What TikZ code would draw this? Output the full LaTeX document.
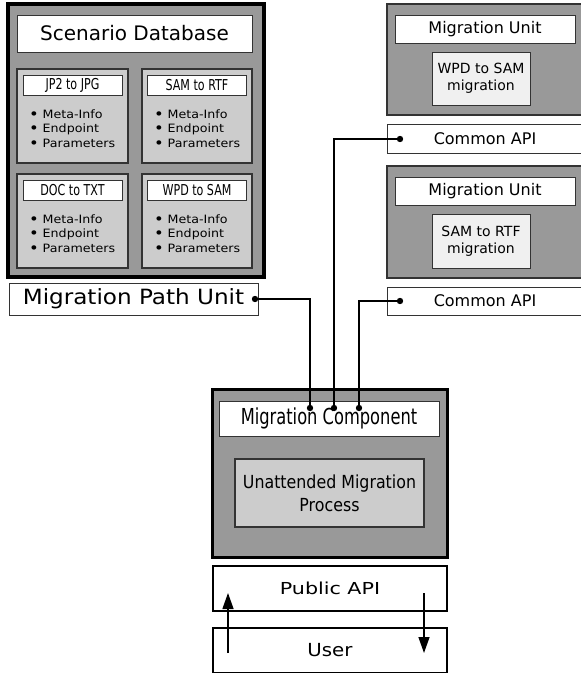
\documentclass[tikz,border=0pt]{standalone}
\usepackage{fontspec}
\setmainfont{DejaVu Sans}
\newfontfamily\narrowfont[FakeStretch=0.74]{DejaVu Sans}
\newfontfamily\slimfont[FakeStretch=0.88]{DejaVu Sans}
\newfontfamily\widefont[FakeStretch=1.1]{DejaVu Sans}
\newfontfamily\broadfont[FakeStretch=1.25]{DejaVu Sans}
\usetikzlibrary{arrows.meta,calc}
\definecolor{darkfill}{HTML}{999999}
\definecolor{midfill}{HTML}{CCCCCC}
\definecolor{lightfill}{HTML}{F0F0F0}
\definecolor{edge}{HTML}{333333}
\newcommand{\dotmark}{\raisebox{-0.8pt}{\fontsize{15}{14.5}\selectfont\textbullet}\hspace{4pt}}

\begin{document}
\begin{tikzpicture}[x=1pt,y=-1pt]
	\tikzstyle{every node}=[inner sep=0pt,outer sep=0pt]
	\tikzstyle{bigbox}=[draw=black,line width=4pt,fill=darkfill]
	\tikzstyle{compbox}=[draw=black,line width=3pt,fill=darkfill]
	\tikzstyle{unitbox}=[draw=edge,line width=1.2pt,fill=darkfill]
	\tikzstyle{pathbox}=[draw=edge,line width=1.2pt,fill=midfill]
	\tikzstyle{labelbox}=[draw=edge,line width=1pt,fill=white]
	\tikzstyle{innerbox}=[draw=edge,line width=1pt,fill=lightfill]
	\tikzstyle{apibox}=[draw=black,line width=2.5pt,fill=white]
	\tikzstyle{wire}=[line width=1.8pt]
	\tikzstyle{flow}=[line width=1.3pt,-{Triangle[width=11pt,length=16pt]}]
	\tikzstyle{infolist}=[anchor=west,align=left,font=\widefont\fontsize{11.5}{14.5}\selectfont]
	\tikzstyle{pathlabel}=[labelbox,minimum width=99,minimum height=20,font=\narrowfont\fontsize{15}{18}\selectfont]

	\useasboundingbox (0,0) rectangle (581,673);

	\node[bigbox,minimum width=256,minimum height=273] (scendb) at (136,140.5) {};
	\node[labelbox,minimum width=235,minimum height=37,font=\fontsize{20}{24}\selectfont] (scentitle) at (134.5,33.5) {Scenario Database};

	\node[pathbox,minimum width=111,minimum height=94] (jp2) at (72.5,116) {};
	\node[pathlabel] (jp2lbl) at (72.5,85) {JP2 to JPG};
	\node[infolist] (jp2info) at (29,129) {\dotmark Meta-Info\\\dotmark Endpoint\\\dotmark Parameters};
	\node[pathbox,minimum width=110,minimum height=94] (sam) at (197,116) {};
	\node[pathlabel] (samlbl) at (197,85) {SAM to RTF};
	\node[infolist] (saminfo) at (154,129) {\dotmark Meta-Info\\\dotmark Endpoint\\\dotmark Parameters};
	\node[pathbox,minimum width=111,minimum height=94] (doc) at (72.5,221) {};
	\node[pathlabel] (doclbl) at (72.5,190) {DOC to TXT};
	\node[infolist] (docinfo) at (29,234) {\dotmark Meta-Info\\\dotmark Endpoint\\\dotmark Parameters};
	\node[pathbox,minimum width=110,minimum height=94] (wpd) at (197,221) {};
	\node[pathlabel] (wpdlbl) at (197,190) {WPD to SAM};
	\node[infolist] (wpdinfo) at (154,234) {\dotmark Meta-Info\\\dotmark Endpoint\\\dotmark Parameters};

	\node[labelbox,minimum width=249,minimum height=32,font=\widefont\fontsize{21}{25}\selectfont] (mpu) at (133.5,299) {Migration Path Unit};

	\node[unitbox,minimum width=196,minimum height=111] (unitA) at (485,59.5) {};
	\node[labelbox,minimum width=180,minimum height=28,font=\fontsize{16}{19}\selectfont] (unitAlbl) at (485,29) {Migration Unit};
	\node[innerbox,minimum width=98,minimum height=53,align=center,font=\fontsize{14}{17}\selectfont] (unitAmig) at (481,78.5) {WPD to SAM\\migration};
	\node[labelbox,minimum width=196,minimum height=29,font=\fontsize{16}{19}\selectfont] (apiA) at (485,138.5) {Common API};

	\node[unitbox,minimum width=196,minimum height=112] (unitB) at (485,222) {};
	\node[labelbox,minimum width=180,minimum height=28,font=\fontsize{16}{19}\selectfont] (unitBlbl) at (485,191) {Migration Unit};
	\node[innerbox,minimum width=98,minimum height=54,align=center,font=\fontsize{14}{17}\selectfont] (unitBmig) at (481,241) {SAM to RTF\\migration};
	\node[labelbox,minimum width=196,minimum height=28,font=\fontsize{16}{19}\selectfont] (apiB) at (485,301) {Common API};

	\node[compbox,minimum width=235,minimum height=168] (comp) at (329.5,473) {};
	\node[labelbox,minimum width=220,minimum height=35,font=\narrowfont\fontsize{22}{26}\selectfont] (complbl) at (329,418.5) {Migration Component};
	\node[pathbox,minimum width=189,minimum height=68,align=center,font=\slimfont\fontsize{18}{23}\selectfont] (unattended) at (329.5,493) {Unattended Migration\\Process};

	\node[apibox,minimum width=234,minimum height=45,font=\broadfont\fontsize{16.5}{20}\selectfont] (pubapi) at (330,588.5) {Public API};
	\node[apibox,minimum width=234,minimum height=45,font=\widefont\fontsize{18}{22}\selectfont] (user) at (330,650.5) {User};

	\coordinate (mpudot) at ($(mpu.east)+(-3,0)$);
	\coordinate (apiAdot) at ($(apiA.west)+(13,0.5)$);
	\coordinate (apiBdot) at ($(apiB.west)+(13,0)$);
	\coordinate (compdotA) at ($(complbl.north)+(-19,7)$);
	\coordinate (compdotB) at ($(complbl.north)+(5,7)$);
	\coordinate (compdotC) at ($(complbl.north)+(30,7)$);

	\draw[wire] (mpudot) -| (compdotA);
	\draw[wire] (apiAdot) -| (compdotB);
	\draw[wire] (apiBdot) -| (compdotC);
	\foreach \d in {mpudot,apiAdot,apiBdot,compdotA,compdotB,compdotC}
		\fill (\d) circle (3.2);

	\draw[flow] ($(user.west)+(15,2.5)$) -- ($(pubapi.west)+(15,4.5)$);
	\draw[flow] ($(pubapi.east)+(-23,4.5)$) -- ($(user.east)+(-23,2.5)$);
\end{tikzpicture}
\end{document}
